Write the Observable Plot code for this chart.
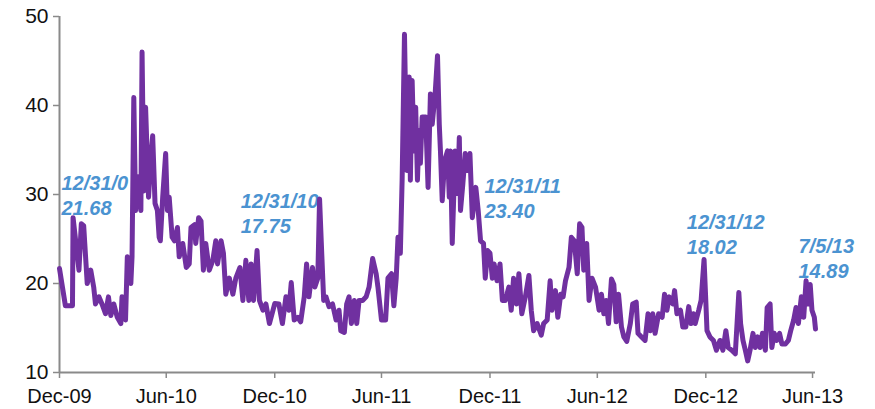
<!DOCTYPE html>
<html><head><meta charset="utf-8">
<script src="https://cdn.jsdelivr.net/npm/d3@7"></script>
<script src="https://cdn.jsdelivr.net/npm/@observablehq/plot@0.6"></script>
<style>body{margin:0;background:#fff}</style>
</head><body><div id="chart"></div>
<script>
// ---- data ----
const startDate = "2009-12-31";
const endDate = "2013-07-05";
// days since 2009-12-31
const dayOffsets = [0,10,22,23,33,37,41,47,53,58,61,67,72,78,83,87,92,98,104,106,112,115,121,123,126,129,134,138,140,143,146,151,155,158,162,166,169,171,175,180,183,186,191,195,200,203,209,215,220,223,229,231,236,240,244,248,254,260,265,268,274,278,282,288,294,299,306,311,316,321,325,329,335,339,345,350,356,365,372,378,384,389,393,398,404,409,415,419,423,429,433,438,441,444,448,452,457,463,469,474,477,483,487,491,495,500,504,508,514,520,525,531,537,540,546,553,557,563,567,571,574,578,581,585,589,593,595,598,601,604,607,610,612,615,621,625,629,632,637,641,644,646,649,653,658,661,663,666,671,675,678,680,684,688,692,696,700,706,710,714,719,722,726,730,734,737,742,747,751,756,762,766,770,775,779,784,790,796,800,804,810,817,821,827,832,835,841,845,850,854,858,864,868,873,878,882,886,889,894,898,903,909,915,919,923,927,931,936,940,944,948,953,957,962,968,972,978,981,987,993,998,1002,1006,1010,1016,1022,1026,1030,1034,1040,1043,1047,1053,1057,1062,1067,1071,1075,1078,1084,1088,1093,1096,1098,1103,1109,1114,1120,1125,1130,1134,1140,1146,1148,1152,1155,1159,1163,1167,1171,1176,1180,1184,1188,1192,1197,1200,1205,1208,1212,1216,1221,1225,1231,1236,1240,1245,1249,1253,1258,1262,1266,1270,1273,1276,1280,1282];
const vixValues = [21.68,17.5,17.5,27.4,21.5,26.7,26.5,20.0,21.5,19.6,17.7,18.5,17.7,16.6,18.5,16.4,17.7,16.2,15.5,18.5,15.9,23.0,20.0,23.0,40.9,28.2,32.0,28.2,46.0,30.4,39.8,29.7,34.2,36.6,29.0,28.2,25.2,24.8,29.7,34.6,28.2,29.7,25.2,24.8,26.3,23.0,24.5,21.8,22.2,26.3,26.6,24.5,27.4,27.0,21.5,24.5,21.5,22.6,24.8,22.2,24.8,23.4,18.8,20.6,18.8,20.6,21.8,18.1,22.6,18.1,22.2,18.1,23.7,18.1,17.0,17.7,15.5,17.75,17.7,15.5,18.5,17.0,20.1,15.9,16.2,15.7,18.5,22.2,18.5,21.8,19.6,20.6,29.5,24.5,18.1,18.5,17.4,17.7,15.9,17.0,14.7,14.5,17.7,18.5,15.5,18.1,15.5,18.1,18.1,18.5,19.6,22.8,21.1,19.6,15.9,15.9,20.6,21.1,17.5,20.6,25.2,23.4,31.6,48.0,32.7,43.2,31.6,42.8,34.9,39.8,31.6,37.2,33.5,38.7,38.7,30.8,41.3,37.9,41.3,45.6,37.9,34.9,29.3,33.8,34.9,29.7,34.9,24.5,34.9,30.1,36.4,28.2,31.2,34.6,32.7,34.6,27.4,30.8,28.2,24.8,24.5,20.6,23.7,23.4,20.6,22.2,20.3,22.2,18.1,18.1,19.6,17.0,20.6,17.7,21.1,16.6,18.5,20.9,17.0,14.7,15.5,14.2,15.5,15.9,20.3,17.0,19.2,16.2,18.8,18.5,20.3,21.8,25.2,24.8,21.1,26.7,26.3,21.5,24.5,18.1,20.6,19.6,17.0,18.8,16.6,18.1,15.5,20.5,19.9,15.7,18.8,15.1,14.0,13.5,15.5,17.7,17.9,14.4,14.0,13.6,16.6,14.7,16.6,14.4,16.6,16.2,18.8,17.0,18.5,17.7,19.2,16.6,17.0,15.1,15.1,17.4,15.5,16.6,15.5,17.0,18.1,22.7,18.02,14.7,14.0,13.6,12.5,13.6,12.5,14.7,12.8,12.5,12.1,14.4,19.0,15.5,13.6,12.5,11.3,12.5,14.4,12.8,14.0,12.8,14.4,12.5,17.3,17.7,12.8,14.4,13.6,14.4,13.2,13.2,13.6,14.7,15.9,17.3,15.5,18.5,16.2,20.3,17.7,19.9,17.0,16.2,14.89];

const yTicks = [10, 20, 30, 40, 50];
const xTickDates = ["2009-12-31","2010-06-30","2010-12-31","2011-06-30","2011-12-31","2012-06-30","2012-12-31","2013-06-30"];

const noteDates = ["2009-12-31","2010-12-31","2011-12-31","2012-12-31","2013-07-05"];
const noteDateText = ["12/31/0","12/31/10","12/31/11","12/31/12","7/5/13"];
const noteValues = [21.68, 17.75, 23.40, 18.02, 14.89];

// ---- layout (pixel offsets of the note text) ----
const noteDx = [2, -34, -5.5, -19, -17];
const noteDy = [-74, -91, -56, -68, -71.5];

const start = new Date(startDate);
const series = dayOffsets.map((o, i) => ({date: d3.utcDay.offset(start, o), value: vixValues[i]}));
const notes = noteDates.map((d, i) => ({
  date: new Date(d), value: noteValues[i],
  label: noteDateText[i] + "\n" + noteValues[i].toFixed(2), dx: noteDx[i], dy: noteDy[i]
}));

const axisColor = "#8a8a8a";
const chart = Plot.plot({
  width: 875, height: 409,
  marginLeft: 59, marginRight: 60, marginTop: 16, marginBottom: 37,
  style: {fontFamily: "'Liberation Sans', Arial, sans-serif", fontSize: "20px", color: "#111", background: "#fff"},
  x: {type: "utc", domain: [start, new Date(endDate)]},
  y: {domain: [10, 50]},
  marks: [
    Plot.axisY({ticks: yTicks, tickSize: 6, tickPadding: 5, stroke: axisColor, strokeWidth: 1.5, label: null, fontSize: 21}),
    Plot.axisX({ticks: xTickDates.map(d => new Date(d)), tickFormat: d3.utcFormat("%b-%y"), tickSize: 6, tickPadding: 10, stroke: axisColor, strokeWidth: 1.5, label: null, fontSize: 20}),
    Plot.ruleY([10], {stroke: axisColor, strokeWidth: 2}),
    Plot.ruleX([start], {stroke: axisColor, strokeWidth: 2}),
    ...notes.map(n => Plot.text([n], {
      x: "date", y: "value", text: "label", dx: n.dx, dy: n.dy,
      textAnchor: "start", lineAnchor: "middle", lineHeight: 1.25,
      fill: "#4b93d1", fontSize: 20, fontWeight: "bold", fontStyle: "italic"
    })),
    Plot.line(series, {x: "date", y: "value", stroke: "#7030a0", strokeWidth: 5, strokeLinejoin: "round", strokeLinecap: "round"})
  ]
});
document.getElementById("chart").append(chart);
</script>
</body></html>
